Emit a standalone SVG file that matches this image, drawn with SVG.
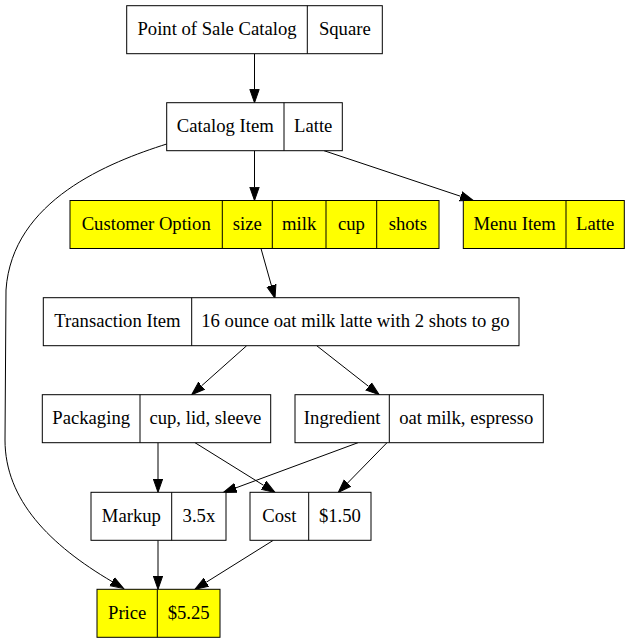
<svg xmlns="http://www.w3.org/2000/svg" width="630" height="644" viewBox="0 0 630 644" font-family="'Liberation Serif', Tinos, 'Times New Roman', Times, 'DejaVu Serif', serif">
<style>
  .box { fill: #ffffff; stroke: #000000; stroke-width: 1; }
  .hl { fill: #ffff00; stroke: #000000; stroke-width: 1; }
  .div { stroke: #000000; stroke-width: 1; }
  text { font-family: 'Liberation Serif', Tinos, 'Times New Roman', Times, 'DejaVu Serif', serif; font-size: 18.67px; text-anchor: middle; fill: #000000; }
  .edge { fill: none; stroke: #000000; stroke-width: 1; marker-end: url(#arrow); }
</style>
<defs>
  <marker id="arrow" markerUnits="userSpaceOnUse" markerWidth="16" markerHeight="12" viewBox="0 -6 16 12" refX="0" refY="0" orient="auto">
    <path d="M0,-4.67 L13.33,0 L0,4.67 z" fill="#000000" stroke="#000000" stroke-width="1"/>
  </marker>
</defs>
<rect width="630" height="644" fill="#ffffff"/>
<g id="connectors">
  <path class="edge" d="M254.5,53.7 L254.5,89.4"/>
  <path class="edge" d="M254.5,150.7 L254.5,187.2"/>
  <path class="edge" d="M324,150.7 L460.7,196.3"/>
  <path class="edge" d="M261,248.5 L271.4,285.5"/>
  <path class="edge" d="M246.7,345.7 L201.6,385.8"/>
  <path class="edge" d="M316.7,345.7 L368.6,386.4"/>
  <path class="edge" d="M158,442.7 L158,479"/>
  <path class="edge" d="M195,442.7 L263.7,485.4"/>
  <path class="edge" d="M358,442.7 L235.8,487.9"/>
  <path class="edge" d="M387,442.7 L347.6,483"/>
  <path class="edge" d="M158,540.3 L158,576"/>
  <path class="edge" d="M273.3,540.3 L206.3,582.2"/>
  <path class="edge" d="M166.7,144 C110,162 12,200 6,290 L5,440 C5,500 50,545 112.1,581.6"/>
</g>
<g id="pos_catalog">
  <rect class="box" x="126.7" y="5.7" width="255.6" height="48"/>
  <line class="div" x1="307.3" y1="5.7" x2="307.3" y2="53.7"/>
  <text x="217" y="35">Point of Sale Catalog</text>
  <text x="344.8" y="35">Square</text>
</g>
<g id="catalog_item">
  <rect class="box" x="166.7" y="102.7" width="175.6" height="48"/>
  <line class="div" x1="284" y1="102.7" x2="284" y2="150.7"/>
  <text x="225.3" y="132">Catalog Item</text>
  <text x="313.2" y="132">Latte</text>
</g>
<g id="customer_option">
  <rect class="hl" x="70" y="200.5" width="369" height="48"/>
  <line class="div" x1="222.3" y1="200.5" x2="222.3" y2="248.5"/>
  <line class="div" x1="272.3" y1="200.5" x2="272.3" y2="248.5"/>
  <line class="div" x1="326" y1="200.5" x2="326" y2="248.5"/>
  <line class="div" x1="376.7" y1="200.5" x2="376.7" y2="248.5"/>
  <text x="146.2" y="229.8">Customer Option</text>
  <text x="247.3" y="229.8">size</text>
  <text x="299.2" y="229.8">milk</text>
  <text x="351.4" y="229.8">cup</text>
  <text x="407.9" y="229.8">shots</text>
</g>
<g id="menu_item">
  <rect class="hl" x="463.3" y="200.5" width="161" height="48"/>
  <line class="div" x1="566" y1="200.5" x2="566" y2="248.5"/>
  <text x="514.7" y="229.8">Menu Item</text>
  <text x="595.2" y="229.8">Latte</text>
</g>
<g id="transaction_item">
  <rect class="box" x="43.3" y="297.7" width="475.7" height="48"/>
  <line class="div" x1="191.7" y1="297.7" x2="191.7" y2="345.7"/>
  <text x="117.5" y="327">Transaction Item</text>
  <text x="355.4" y="327">16 ounce oat milk latte with 2 shots to go</text>
</g>
<g id="packaging">
  <rect class="box" x="42.3" y="394.7" width="228.4" height="48"/>
  <line class="div" x1="140" y1="394.7" x2="140" y2="442.7"/>
  <text x="91.2" y="424">Packaging</text>
  <text x="205.4" y="424">cup, lid, sleeve</text>
</g>
<g id="ingredient">
  <rect class="box" x="295" y="394.7" width="248.3" height="48"/>
  <line class="div" x1="389.3" y1="394.7" x2="389.3" y2="442.7"/>
  <text x="342.2" y="424">Ingredient</text>
  <text x="466.3" y="424">oat milk, espresso</text>
</g>
<g id="markup">
  <rect class="box" x="91" y="492.3" width="135" height="48"/>
  <line class="div" x1="171.7" y1="492.3" x2="171.7" y2="540.3"/>
  <text x="131.4" y="521.6">Markup</text>
  <text x="198.9" y="521.6">3.5x</text>
</g>
<g id="cost">
  <rect class="box" x="250" y="492.3" width="121" height="48"/>
  <line class="div" x1="308.7" y1="492.3" x2="308.7" y2="540.3"/>
  <text x="279.4" y="521.6">Cost</text>
  <text x="339.9" y="521.6">$1.50</text>
</g>
<g id="price">
  <rect class="hl" x="97" y="589.3" width="123" height="48"/>
  <line class="div" x1="157.3" y1="589.3" x2="157.3" y2="637.3"/>
  <text x="127.2" y="618.6">Price</text>
  <text x="188.7" y="618.6">$5.25</text>
</g>
</svg>
